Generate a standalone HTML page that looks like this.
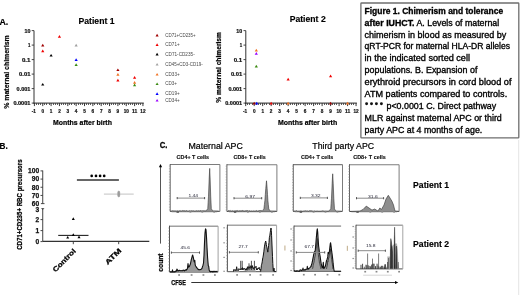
<!DOCTYPE html>
<html><head><meta charset="utf-8"><style>
html,body{margin:0;padding:0;background:#fff;overflow:hidden;}
svg{display:block;font-family:"Liberation Sans", sans-serif;will-change:transform;}
</style></head><body>
<svg width="520" height="295" viewBox="0 0 520 295">
<rect width="520" height="295" fill="#fff"/>
<text x="-0.60" y="24.80" font-size="9.6" font-weight="bold" textLength="8.8" lengthAdjust="spacingAndGlyphs" stroke="#000" stroke-width="0.2">A.</text>
<line x1="34.00" y1="30.60" x2="34.00" y2="103.60" stroke="#333" stroke-width="1"/>
<line x1="33.50" y1="103.10" x2="143.80" y2="103.10" stroke="#222" stroke-width="1"/>
<line x1="31.70" y1="30.60" x2="34.00" y2="30.60" stroke="#333" stroke-width="0.9"/>
<text x="30.40" y="32.90" font-size="5.0" font-weight="bold" text-anchor="end" fill="#111" textLength="5.9" lengthAdjust="spacingAndGlyphs" stroke="#111" stroke-width="0.2">10</text>
<line x1="31.70" y1="45.10" x2="34.00" y2="45.10" stroke="#333" stroke-width="0.9"/>
<text x="30.40" y="47.40" font-size="5.0" font-weight="bold" text-anchor="end" fill="#111" textLength="2.4" lengthAdjust="spacingAndGlyphs" stroke="#111" stroke-width="0.2">1</text>
<line x1="31.70" y1="59.60" x2="34.00" y2="59.60" stroke="#333" stroke-width="0.9"/>
<text x="30.40" y="61.90" font-size="5.0" font-weight="bold" text-anchor="end" fill="#111" textLength="8.5" lengthAdjust="spacingAndGlyphs" stroke="#111" stroke-width="0.2">0.1</text>
<line x1="31.70" y1="74.10" x2="34.00" y2="74.10" stroke="#333" stroke-width="0.9"/>
<text x="30.40" y="76.40" font-size="5.0" font-weight="bold" text-anchor="end" fill="#111" textLength="11.3" lengthAdjust="spacingAndGlyphs" stroke="#111" stroke-width="0.2">0.01</text>
<line x1="31.70" y1="88.60" x2="34.00" y2="88.60" stroke="#333" stroke-width="0.9"/>
<text x="30.40" y="90.90" font-size="5.0" font-weight="bold" text-anchor="end" fill="#111" textLength="13.8" lengthAdjust="spacingAndGlyphs" stroke="#111" stroke-width="0.2">0.001</text>
<line x1="31.70" y1="103.10" x2="34.00" y2="103.10" stroke="#333" stroke-width="0.9"/>
<text x="30.40" y="105.40" font-size="5.0" font-weight="bold" text-anchor="end" fill="#111" textLength="17" lengthAdjust="spacingAndGlyphs" stroke="#111" stroke-width="0.2">0.0001</text>
<line x1="34.40" y1="103.10" x2="34.40" y2="106.10" stroke="#222" stroke-width="0.9"/>
<line x1="36.50" y1="103.10" x2="36.50" y2="105.00" stroke="#333" stroke-width="0.8"/>
<line x1="38.50" y1="103.10" x2="38.50" y2="105.00" stroke="#333" stroke-width="0.8"/>
<line x1="40.50" y1="103.10" x2="40.50" y2="105.00" stroke="#333" stroke-width="0.8"/>
<line x1="42.75" y1="103.10" x2="42.75" y2="106.10" stroke="#222" stroke-width="0.9"/>
<line x1="44.50" y1="103.10" x2="44.50" y2="105.00" stroke="#333" stroke-width="0.8"/>
<line x1="46.50" y1="103.10" x2="46.50" y2="105.00" stroke="#333" stroke-width="0.8"/>
<line x1="49.50" y1="103.10" x2="49.50" y2="105.00" stroke="#333" stroke-width="0.8"/>
<line x1="51.10" y1="103.10" x2="51.10" y2="106.10" stroke="#222" stroke-width="0.9"/>
<line x1="53.50" y1="103.10" x2="53.50" y2="105.00" stroke="#333" stroke-width="0.8"/>
<line x1="55.50" y1="103.10" x2="55.50" y2="105.00" stroke="#333" stroke-width="0.8"/>
<line x1="57.50" y1="103.10" x2="57.50" y2="105.00" stroke="#333" stroke-width="0.8"/>
<line x1="59.45" y1="103.10" x2="59.45" y2="106.10" stroke="#222" stroke-width="0.9"/>
<line x1="61.50" y1="103.10" x2="61.50" y2="105.00" stroke="#333" stroke-width="0.8"/>
<line x1="63.50" y1="103.10" x2="63.50" y2="105.00" stroke="#333" stroke-width="0.8"/>
<line x1="65.50" y1="103.10" x2="65.50" y2="105.00" stroke="#333" stroke-width="0.8"/>
<line x1="67.80" y1="103.10" x2="67.80" y2="106.10" stroke="#222" stroke-width="0.9"/>
<line x1="69.50" y1="103.10" x2="69.50" y2="105.00" stroke="#333" stroke-width="0.8"/>
<line x1="71.50" y1="103.10" x2="71.50" y2="105.00" stroke="#333" stroke-width="0.8"/>
<line x1="74.50" y1="103.10" x2="74.50" y2="105.00" stroke="#333" stroke-width="0.8"/>
<line x1="76.15" y1="103.10" x2="76.15" y2="106.10" stroke="#222" stroke-width="0.9"/>
<line x1="78.50" y1="103.10" x2="78.50" y2="105.00" stroke="#333" stroke-width="0.8"/>
<line x1="80.50" y1="103.10" x2="80.50" y2="105.00" stroke="#333" stroke-width="0.8"/>
<line x1="82.50" y1="103.10" x2="82.50" y2="105.00" stroke="#333" stroke-width="0.8"/>
<line x1="84.50" y1="103.10" x2="84.50" y2="106.10" stroke="#222" stroke-width="0.9"/>
<line x1="86.50" y1="103.10" x2="86.50" y2="105.00" stroke="#333" stroke-width="0.8"/>
<line x1="88.50" y1="103.10" x2="88.50" y2="105.00" stroke="#333" stroke-width="0.8"/>
<line x1="90.50" y1="103.10" x2="90.50" y2="105.00" stroke="#333" stroke-width="0.8"/>
<line x1="92.85" y1="103.10" x2="92.85" y2="106.10" stroke="#222" stroke-width="0.9"/>
<line x1="94.50" y1="103.10" x2="94.50" y2="105.00" stroke="#333" stroke-width="0.8"/>
<line x1="97.50" y1="103.10" x2="97.50" y2="105.00" stroke="#333" stroke-width="0.8"/>
<line x1="99.50" y1="103.10" x2="99.50" y2="105.00" stroke="#333" stroke-width="0.8"/>
<line x1="101.20" y1="103.10" x2="101.20" y2="106.10" stroke="#222" stroke-width="0.9"/>
<line x1="103.50" y1="103.10" x2="103.50" y2="105.00" stroke="#333" stroke-width="0.8"/>
<line x1="105.50" y1="103.10" x2="105.50" y2="105.00" stroke="#333" stroke-width="0.8"/>
<line x1="107.50" y1="103.10" x2="107.50" y2="105.00" stroke="#333" stroke-width="0.8"/>
<line x1="109.55" y1="103.10" x2="109.55" y2="106.10" stroke="#222" stroke-width="0.9"/>
<line x1="111.50" y1="103.10" x2="111.50" y2="105.00" stroke="#333" stroke-width="0.8"/>
<line x1="113.50" y1="103.10" x2="113.50" y2="105.00" stroke="#333" stroke-width="0.8"/>
<line x1="115.50" y1="103.10" x2="115.50" y2="105.00" stroke="#333" stroke-width="0.8"/>
<line x1="117.90" y1="103.10" x2="117.90" y2="106.10" stroke="#222" stroke-width="0.9"/>
<line x1="119.50" y1="103.10" x2="119.50" y2="105.00" stroke="#333" stroke-width="0.8"/>
<line x1="122.50" y1="103.10" x2="122.50" y2="105.00" stroke="#333" stroke-width="0.8"/>
<line x1="124.50" y1="103.10" x2="124.50" y2="105.00" stroke="#333" stroke-width="0.8"/>
<line x1="126.25" y1="103.10" x2="126.25" y2="106.10" stroke="#222" stroke-width="0.9"/>
<line x1="128.50" y1="103.10" x2="128.50" y2="105.00" stroke="#333" stroke-width="0.8"/>
<line x1="130.50" y1="103.10" x2="130.50" y2="105.00" stroke="#333" stroke-width="0.8"/>
<line x1="132.50" y1="103.10" x2="132.50" y2="105.00" stroke="#333" stroke-width="0.8"/>
<line x1="134.60" y1="103.10" x2="134.60" y2="106.10" stroke="#222" stroke-width="0.9"/>
<line x1="136.50" y1="103.10" x2="136.50" y2="105.00" stroke="#333" stroke-width="0.8"/>
<line x1="138.50" y1="103.10" x2="138.50" y2="105.00" stroke="#333" stroke-width="0.8"/>
<line x1="140.50" y1="103.10" x2="140.50" y2="105.00" stroke="#333" stroke-width="0.8"/>
<line x1="142.95" y1="103.10" x2="142.95" y2="106.10" stroke="#222" stroke-width="0.9"/>
<text x="33.80" y="112.50" font-size="5.2" font-weight="bold" text-anchor="middle" fill="#111" textLength="4.2" lengthAdjust="spacingAndGlyphs" stroke="#111" stroke-width="0.2">-1</text>
<text x="42.75" y="112.50" font-size="5.2" font-weight="bold" text-anchor="middle" fill="#111" textLength="2.6" lengthAdjust="spacingAndGlyphs" stroke="#111" stroke-width="0.2">0</text>
<text x="51.10" y="112.50" font-size="5.2" font-weight="bold" text-anchor="middle" fill="#111" textLength="2.6" lengthAdjust="spacingAndGlyphs" stroke="#111" stroke-width="0.2">1</text>
<text x="59.45" y="112.50" font-size="5.2" font-weight="bold" text-anchor="middle" fill="#111" textLength="2.6" lengthAdjust="spacingAndGlyphs" stroke="#111" stroke-width="0.2">2</text>
<text x="67.80" y="112.50" font-size="5.2" font-weight="bold" text-anchor="middle" fill="#111" textLength="2.6" lengthAdjust="spacingAndGlyphs" stroke="#111" stroke-width="0.2">3</text>
<text x="76.15" y="112.50" font-size="5.2" font-weight="bold" text-anchor="middle" fill="#111" textLength="2.6" lengthAdjust="spacingAndGlyphs" stroke="#111" stroke-width="0.2">4</text>
<text x="84.50" y="112.50" font-size="5.2" font-weight="bold" text-anchor="middle" fill="#111" textLength="2.6" lengthAdjust="spacingAndGlyphs" stroke="#111" stroke-width="0.2">5</text>
<text x="92.85" y="112.50" font-size="5.2" font-weight="bold" text-anchor="middle" fill="#111" textLength="2.6" lengthAdjust="spacingAndGlyphs" stroke="#111" stroke-width="0.2">6</text>
<text x="101.20" y="112.50" font-size="5.2" font-weight="bold" text-anchor="middle" fill="#111" textLength="2.6" lengthAdjust="spacingAndGlyphs" stroke="#111" stroke-width="0.2">7</text>
<text x="109.55" y="112.50" font-size="5.2" font-weight="bold" text-anchor="middle" fill="#111" textLength="2.6" lengthAdjust="spacingAndGlyphs" stroke="#111" stroke-width="0.2">8</text>
<text x="117.90" y="112.50" font-size="5.2" font-weight="bold" text-anchor="middle" fill="#111" textLength="2.6" lengthAdjust="spacingAndGlyphs" stroke="#111" stroke-width="0.2">9</text>
<text x="126.25" y="112.50" font-size="5.2" font-weight="bold" text-anchor="middle" fill="#111" textLength="5.2" lengthAdjust="spacingAndGlyphs" stroke="#111" stroke-width="0.2">10</text>
<text x="134.60" y="112.50" font-size="5.2" font-weight="bold" text-anchor="middle" fill="#111" textLength="5.2" lengthAdjust="spacingAndGlyphs" stroke="#111" stroke-width="0.2">11</text>
<text x="142.95" y="112.50" font-size="5.2" font-weight="bold" text-anchor="middle" fill="#111" textLength="5.2" lengthAdjust="spacingAndGlyphs" stroke="#111" stroke-width="0.2">12</text>
<text x="78.50" y="23.70" font-size="8.6" font-weight="bold" textLength="36" lengthAdjust="spacingAndGlyphs" stroke="#000" stroke-width="0.15">Patient 1</text>
<text x="9.30" y="108.70" font-size="7.2" font-weight="bold" textLength="73.4" lengthAdjust="spacingAndGlyphs" transform="rotate(-90 9.30 108.70)" stroke="#000" stroke-width="0.2">% maternal chimerism</text>
<text x="53.10" y="124.80" font-size="7.0" font-weight="bold" textLength="58.800000000000004" lengthAdjust="spacingAndGlyphs" stroke="#000" stroke-width="0.2">Months after birth</text>
<path d="M41.15 46.46L42.75 43.74L44.35 46.46Z" fill="#a00000"/>
<path d="M41.15 52.23L42.75 49.51L44.35 52.23Z" fill="#f00000"/>
<path d="M41.15 85.60L42.75 82.88L44.35 85.60Z" fill="#000"/>
<path d="M49.50 56.60L51.10 53.88L52.70 56.60Z" fill="#000"/>
<path d="M57.85 37.73L59.45 35.01L61.05 37.73Z" fill="#f00000"/>
<path d="M74.55 46.46L76.15 43.74L77.75 46.46Z" fill="#a0a0a0"/>
<path d="M74.55 60.96L76.15 58.24L77.75 60.96Z" fill="#0000ff"/>
<path d="M74.55 65.99L76.15 63.27L77.75 65.99Z" fill="#3a8a10"/>
<path d="M116.30 71.10L117.90 68.38L119.50 71.10Z" fill="#a00000"/>
<path d="M116.30 75.78L117.90 73.06L119.50 75.78Z" fill="#f07020"/>
<path d="M116.30 81.55L117.90 78.83L119.50 81.55Z" fill="#f00000"/>
<path d="M133.00 78.68L134.60 75.96L136.20 78.68Z" fill="#f00000"/>
<path d="M133.00 83.71L134.60 80.99L136.20 83.71Z" fill="#f07020"/>
<path d="M133.00 86.26L134.60 83.54L136.20 86.26Z" fill="#3a8a10"/>
<line x1="245.80" y1="30.60" x2="245.80" y2="103.60" stroke="#333" stroke-width="1"/>
<line x1="245.30" y1="103.10" x2="356.90" y2="103.10" stroke="#222" stroke-width="1"/>
<line x1="243.50" y1="30.60" x2="245.80" y2="30.60" stroke="#333" stroke-width="0.9"/>
<text x="242.20" y="32.90" font-size="5.0" font-weight="bold" text-anchor="end" fill="#111" textLength="5.9" lengthAdjust="spacingAndGlyphs" stroke="#111" stroke-width="0.2">10</text>
<line x1="243.50" y1="45.10" x2="245.80" y2="45.10" stroke="#333" stroke-width="0.9"/>
<text x="242.20" y="47.40" font-size="5.0" font-weight="bold" text-anchor="end" fill="#111" textLength="2.4" lengthAdjust="spacingAndGlyphs" stroke="#111" stroke-width="0.2">1</text>
<line x1="243.50" y1="59.60" x2="245.80" y2="59.60" stroke="#333" stroke-width="0.9"/>
<text x="242.20" y="61.90" font-size="5.0" font-weight="bold" text-anchor="end" fill="#111" textLength="8.5" lengthAdjust="spacingAndGlyphs" stroke="#111" stroke-width="0.2">0.1</text>
<line x1="243.50" y1="74.10" x2="245.80" y2="74.10" stroke="#333" stroke-width="0.9"/>
<text x="242.20" y="76.40" font-size="5.0" font-weight="bold" text-anchor="end" fill="#111" textLength="11.3" lengthAdjust="spacingAndGlyphs" stroke="#111" stroke-width="0.2">0.01</text>
<line x1="243.50" y1="88.60" x2="245.80" y2="88.60" stroke="#333" stroke-width="0.9"/>
<text x="242.20" y="90.90" font-size="5.0" font-weight="bold" text-anchor="end" fill="#111" textLength="13.8" lengthAdjust="spacingAndGlyphs" stroke="#111" stroke-width="0.2">0.001</text>
<line x1="243.50" y1="103.10" x2="245.80" y2="103.10" stroke="#333" stroke-width="0.9"/>
<text x="242.20" y="105.40" font-size="5.0" font-weight="bold" text-anchor="end" fill="#111" textLength="17" lengthAdjust="spacingAndGlyphs" stroke="#111" stroke-width="0.2">0.0001</text>
<line x1="245.70" y1="103.10" x2="245.70" y2="106.10" stroke="#222" stroke-width="0.9"/>
<line x1="247.50" y1="103.10" x2="247.50" y2="105.00" stroke="#333" stroke-width="0.8"/>
<line x1="249.50" y1="103.10" x2="249.50" y2="105.00" stroke="#333" stroke-width="0.8"/>
<line x1="252.50" y1="103.10" x2="252.50" y2="105.00" stroke="#333" stroke-width="0.8"/>
<line x1="254.19" y1="103.10" x2="254.19" y2="106.10" stroke="#222" stroke-width="0.9"/>
<line x1="256.50" y1="103.10" x2="256.50" y2="105.00" stroke="#333" stroke-width="0.8"/>
<line x1="258.50" y1="103.10" x2="258.50" y2="105.00" stroke="#333" stroke-width="0.8"/>
<line x1="260.50" y1="103.10" x2="260.50" y2="105.00" stroke="#333" stroke-width="0.8"/>
<line x1="262.68" y1="103.10" x2="262.68" y2="106.10" stroke="#222" stroke-width="0.9"/>
<line x1="264.50" y1="103.10" x2="264.50" y2="105.00" stroke="#333" stroke-width="0.8"/>
<line x1="266.50" y1="103.10" x2="266.50" y2="105.00" stroke="#333" stroke-width="0.8"/>
<line x1="269.50" y1="103.10" x2="269.50" y2="105.00" stroke="#333" stroke-width="0.8"/>
<line x1="271.17" y1="103.10" x2="271.17" y2="106.10" stroke="#222" stroke-width="0.9"/>
<line x1="273.50" y1="103.10" x2="273.50" y2="105.00" stroke="#333" stroke-width="0.8"/>
<line x1="275.50" y1="103.10" x2="275.50" y2="105.00" stroke="#333" stroke-width="0.8"/>
<line x1="277.50" y1="103.10" x2="277.50" y2="105.00" stroke="#333" stroke-width="0.8"/>
<line x1="279.66" y1="103.10" x2="279.66" y2="106.10" stroke="#222" stroke-width="0.9"/>
<line x1="281.50" y1="103.10" x2="281.50" y2="105.00" stroke="#333" stroke-width="0.8"/>
<line x1="283.50" y1="103.10" x2="283.50" y2="105.00" stroke="#333" stroke-width="0.8"/>
<line x1="286.50" y1="103.10" x2="286.50" y2="105.00" stroke="#333" stroke-width="0.8"/>
<line x1="288.15" y1="103.10" x2="288.15" y2="106.10" stroke="#222" stroke-width="0.9"/>
<line x1="290.50" y1="103.10" x2="290.50" y2="105.00" stroke="#333" stroke-width="0.8"/>
<line x1="292.50" y1="103.10" x2="292.50" y2="105.00" stroke="#333" stroke-width="0.8"/>
<line x1="294.50" y1="103.10" x2="294.50" y2="105.00" stroke="#333" stroke-width="0.8"/>
<line x1="296.64" y1="103.10" x2="296.64" y2="106.10" stroke="#222" stroke-width="0.9"/>
<line x1="298.50" y1="103.10" x2="298.50" y2="105.00" stroke="#333" stroke-width="0.8"/>
<line x1="300.50" y1="103.10" x2="300.50" y2="105.00" stroke="#333" stroke-width="0.8"/>
<line x1="303.50" y1="103.10" x2="303.50" y2="105.00" stroke="#333" stroke-width="0.8"/>
<line x1="305.13" y1="103.10" x2="305.13" y2="106.10" stroke="#222" stroke-width="0.9"/>
<line x1="307.50" y1="103.10" x2="307.50" y2="105.00" stroke="#333" stroke-width="0.8"/>
<line x1="309.50" y1="103.10" x2="309.50" y2="105.00" stroke="#333" stroke-width="0.8"/>
<line x1="311.50" y1="103.10" x2="311.50" y2="105.00" stroke="#333" stroke-width="0.8"/>
<line x1="313.62" y1="103.10" x2="313.62" y2="106.10" stroke="#222" stroke-width="0.9"/>
<line x1="315.50" y1="103.10" x2="315.50" y2="105.00" stroke="#333" stroke-width="0.8"/>
<line x1="317.50" y1="103.10" x2="317.50" y2="105.00" stroke="#333" stroke-width="0.8"/>
<line x1="319.50" y1="103.10" x2="319.50" y2="105.00" stroke="#333" stroke-width="0.8"/>
<line x1="322.11" y1="103.10" x2="322.11" y2="106.10" stroke="#222" stroke-width="0.9"/>
<line x1="324.50" y1="103.10" x2="324.50" y2="105.00" stroke="#333" stroke-width="0.8"/>
<line x1="326.50" y1="103.10" x2="326.50" y2="105.00" stroke="#333" stroke-width="0.8"/>
<line x1="328.50" y1="103.10" x2="328.50" y2="105.00" stroke="#333" stroke-width="0.8"/>
<line x1="330.60" y1="103.10" x2="330.60" y2="106.10" stroke="#222" stroke-width="0.9"/>
<line x1="332.50" y1="103.10" x2="332.50" y2="105.00" stroke="#333" stroke-width="0.8"/>
<line x1="334.50" y1="103.10" x2="334.50" y2="105.00" stroke="#333" stroke-width="0.8"/>
<line x1="336.50" y1="103.10" x2="336.50" y2="105.00" stroke="#333" stroke-width="0.8"/>
<line x1="339.09" y1="103.10" x2="339.09" y2="106.10" stroke="#222" stroke-width="0.9"/>
<line x1="341.50" y1="103.10" x2="341.50" y2="105.00" stroke="#333" stroke-width="0.8"/>
<line x1="343.50" y1="103.10" x2="343.50" y2="105.00" stroke="#333" stroke-width="0.8"/>
<line x1="345.50" y1="103.10" x2="345.50" y2="105.00" stroke="#333" stroke-width="0.8"/>
<line x1="347.58" y1="103.10" x2="347.58" y2="106.10" stroke="#222" stroke-width="0.9"/>
<line x1="349.50" y1="103.10" x2="349.50" y2="105.00" stroke="#333" stroke-width="0.8"/>
<line x1="351.50" y1="103.10" x2="351.50" y2="105.00" stroke="#333" stroke-width="0.8"/>
<line x1="353.50" y1="103.10" x2="353.50" y2="105.00" stroke="#333" stroke-width="0.8"/>
<line x1="356.07" y1="103.10" x2="356.07" y2="106.10" stroke="#222" stroke-width="0.9"/>
<text x="245.10" y="112.50" font-size="5.2" font-weight="bold" text-anchor="middle" fill="#111" textLength="4.2" lengthAdjust="spacingAndGlyphs" stroke="#111" stroke-width="0.2">-1</text>
<text x="254.19" y="112.50" font-size="5.2" font-weight="bold" text-anchor="middle" fill="#111" textLength="2.6" lengthAdjust="spacingAndGlyphs" stroke="#111" stroke-width="0.2">0</text>
<text x="262.68" y="112.50" font-size="5.2" font-weight="bold" text-anchor="middle" fill="#111" textLength="2.6" lengthAdjust="spacingAndGlyphs" stroke="#111" stroke-width="0.2">1</text>
<text x="271.17" y="112.50" font-size="5.2" font-weight="bold" text-anchor="middle" fill="#111" textLength="2.6" lengthAdjust="spacingAndGlyphs" stroke="#111" stroke-width="0.2">2</text>
<text x="279.66" y="112.50" font-size="5.2" font-weight="bold" text-anchor="middle" fill="#111" textLength="2.6" lengthAdjust="spacingAndGlyphs" stroke="#111" stroke-width="0.2">3</text>
<text x="288.15" y="112.50" font-size="5.2" font-weight="bold" text-anchor="middle" fill="#111" textLength="2.6" lengthAdjust="spacingAndGlyphs" stroke="#111" stroke-width="0.2">4</text>
<text x="296.64" y="112.50" font-size="5.2" font-weight="bold" text-anchor="middle" fill="#111" textLength="2.6" lengthAdjust="spacingAndGlyphs" stroke="#111" stroke-width="0.2">5</text>
<text x="305.13" y="112.50" font-size="5.2" font-weight="bold" text-anchor="middle" fill="#111" textLength="2.6" lengthAdjust="spacingAndGlyphs" stroke="#111" stroke-width="0.2">6</text>
<text x="313.62" y="112.50" font-size="5.2" font-weight="bold" text-anchor="middle" fill="#111" textLength="2.6" lengthAdjust="spacingAndGlyphs" stroke="#111" stroke-width="0.2">7</text>
<text x="322.11" y="112.50" font-size="5.2" font-weight="bold" text-anchor="middle" fill="#111" textLength="2.6" lengthAdjust="spacingAndGlyphs" stroke="#111" stroke-width="0.2">8</text>
<text x="330.60" y="112.50" font-size="5.2" font-weight="bold" text-anchor="middle" fill="#111" textLength="2.6" lengthAdjust="spacingAndGlyphs" stroke="#111" stroke-width="0.2">9</text>
<text x="339.09" y="112.50" font-size="5.2" font-weight="bold" text-anchor="middle" fill="#111" textLength="5.2" lengthAdjust="spacingAndGlyphs" stroke="#111" stroke-width="0.2">10</text>
<text x="347.58" y="112.50" font-size="5.2" font-weight="bold" text-anchor="middle" fill="#111" textLength="5.2" lengthAdjust="spacingAndGlyphs" stroke="#111" stroke-width="0.2">11</text>
<text x="356.07" y="112.50" font-size="5.2" font-weight="bold" text-anchor="middle" fill="#111" textLength="5.2" lengthAdjust="spacingAndGlyphs" stroke="#111" stroke-width="0.2">12</text>
<text x="289.70" y="21.70" font-size="8.6" font-weight="bold" textLength="36" lengthAdjust="spacingAndGlyphs" stroke="#000" stroke-width="0.15">Patient 2</text>
<text x="221.30" y="102.80" font-size="7.2" font-weight="bold" textLength="70.8" lengthAdjust="spacingAndGlyphs" transform="rotate(-90 221.30 102.80)" stroke="#000" stroke-width="0.2">% maternal chimerism</text>
<text x="278.00" y="124.80" font-size="7.0" font-weight="bold" textLength="59.19999999999999" lengthAdjust="spacingAndGlyphs" stroke="#000" stroke-width="0.2">Months after birth</text>
<path d="M254.71 51.49L256.31 48.77L257.91 51.49Z" fill="#f07020"/>
<path d="M254.71 54.71L256.31 51.99L257.91 54.71Z" fill="#9900ff"/>
<path d="M254.71 67.57L256.31 64.85L257.91 67.57Z" fill="#3a8a10"/>
<path d="M286.55 80.49L288.15 77.77L289.75 80.49Z" fill="#f00000"/>
<path d="M329.00 77.27L330.60 74.55L332.20 77.27Z" fill="#f00000"/>
<path d="M252.59 104.46L254.19 101.74L255.79 104.46Z" fill="#a00000"/>
<path d="M255.14 104.46L256.74 101.74L258.34 104.46Z" fill="#0000ff"/>
<path d="M269.57 104.46L271.17 101.74L272.77 104.46Z" fill="#f00000"/>
<path d="M286.55 104.46L288.15 101.74L289.75 104.46Z" fill="#f07020"/>
<path d="M329.00 104.46L330.60 101.74L332.20 104.46Z" fill="#a00000"/>
<path d="M345.98 104.46L347.58 101.74L349.18 104.46Z" fill="#f07020"/>
<path d="M155.55 36.42L157.10 33.78L158.65 36.42Z" fill="#a00000"/>
<text x="165.20" y="36.70" font-size="4.6" fill="#4a4a4a" textLength="30.5" lengthAdjust="spacingAndGlyphs">CD71+CD235+</text>
<path d="M155.55 45.92L157.10 43.28L158.65 45.92Z" fill="#f00000"/>
<text x="165.20" y="46.20" font-size="4.6" fill="#4a4a4a" textLength="14.5" lengthAdjust="spacingAndGlyphs">CD71+</text>
<path d="M155.55 55.42L157.10 52.78L158.65 55.42Z" fill="#000"/>
<text x="165.20" y="55.70" font-size="4.6" fill="#4a4a4a" textLength="29.5" lengthAdjust="spacingAndGlyphs">CD71-CD235-</text>
<path d="M155.55 65.62L157.10 62.98L158.65 65.62Z" fill="#a0a0a0"/>
<text x="165.20" y="65.90" font-size="4.6" fill="#4a4a4a" textLength="37.5" lengthAdjust="spacingAndGlyphs">CD45+CD3-CD19-</text>
<path d="M155.55 75.52L157.10 72.88L158.65 75.52Z" fill="#f07020"/>
<text x="165.20" y="75.80" font-size="4.6" fill="#4a4a4a" textLength="14.5" lengthAdjust="spacingAndGlyphs">CD33+</text>
<path d="M155.55 85.12L157.10 82.48L158.65 85.12Z" fill="#3a8a10"/>
<text x="165.20" y="85.40" font-size="4.6" fill="#4a4a4a" textLength="11.8" lengthAdjust="spacingAndGlyphs">CD3+</text>
<path d="M155.55 94.92L157.10 92.28L158.65 94.92Z" fill="#0000ff"/>
<text x="165.20" y="95.20" font-size="4.6" fill="#4a4a4a" textLength="14.5" lengthAdjust="spacingAndGlyphs">CD19+</text>
<path d="M155.55 101.62L157.10 98.98L158.65 101.62Z" fill="#9900ff"/>
<text x="165.20" y="101.90" font-size="4.6" fill="#4a4a4a" textLength="14.5" lengthAdjust="spacingAndGlyphs">CD34+</text>
<rect x="360.9" y="3.0" width="157.9" height="134.9" rx="0.6" fill="#fff" stroke="#6e6e6e" stroke-width="1.3"/>
<text x="364.6" y="13.80" font-size="9.0" fill="#000" stroke="#000" stroke-width="0.34" textLength="138.5" lengthAdjust="spacingAndGlyphs"><tspan font-weight="bold">Figure 1. Chimerism and tolerance</tspan></text>
<text x="364.6" y="25.68" font-size="9.0" fill="#000" stroke="#000" stroke-width="0.34" textLength="134.6" lengthAdjust="spacingAndGlyphs"><tspan font-weight="bold">after IUHCT.</tspan><tspan> A. Levels of maternal</tspan></text>
<text x="364.6" y="37.56" font-size="9.0" fill="#000" stroke="#000" stroke-width="0.34" textLength="141.6" lengthAdjust="spacingAndGlyphs"><tspan>chimerism in blood as measured by</tspan></text>
<text x="364.6" y="49.44" font-size="9.0" fill="#000" stroke="#000" stroke-width="0.34" textLength="145.4" lengthAdjust="spacingAndGlyphs"><tspan>qRT-PCR for maternal HLA-DR alleles</tspan></text>
<text x="364.6" y="61.32" font-size="9.0" fill="#000" stroke="#000" stroke-width="0.34" textLength="105.4" lengthAdjust="spacingAndGlyphs"><tspan>in the indicated sorted cell</tspan></text>
<text x="364.6" y="73.20" font-size="9.0" fill="#000" stroke="#000" stroke-width="0.34" textLength="112.8" lengthAdjust="spacingAndGlyphs"><tspan>populations. B. Expansion of</tspan></text>
<text x="364.6" y="85.08" font-size="9.0" fill="#000" stroke="#000" stroke-width="0.34" textLength="146.9" lengthAdjust="spacingAndGlyphs"><tspan>erythroid precursors in cord blood of</tspan></text>
<text x="364.6" y="96.96" font-size="9.0" fill="#000" stroke="#000" stroke-width="0.34" textLength="142.6" lengthAdjust="spacingAndGlyphs"><tspan>ATM patients compared to controls.</tspan></text>
<text x="386.5" y="108.84" font-size="9.0" fill="#000" stroke="#000" stroke-width="0.34" textLength="109.7" lengthAdjust="spacingAndGlyphs"><tspan>p&lt;0.0001 C. Direct pathway</tspan></text>
<text x="364.6" y="120.72" font-size="9.0" fill="#000" stroke="#000" stroke-width="0.34" textLength="137.2" lengthAdjust="spacingAndGlyphs"><tspan>MLR against maternal APC or third</tspan></text>
<text x="364.6" y="132.60" font-size="9.0" fill="#000" stroke="#000" stroke-width="0.34" textLength="117.7" lengthAdjust="spacingAndGlyphs"><tspan>party APC at 4 months of age.</tspan></text>
<circle cx="366.6" cy="103.8" r="1.45" fill="#111"/>
<circle cx="371.5" cy="103.8" r="1.45" fill="#111"/>
<circle cx="376.4" cy="103.8" r="1.45" fill="#111"/>
<circle cx="381.4" cy="103.8" r="1.45" fill="#111"/>
<text x="-0.50" y="148.90" font-size="9.2" font-weight="bold" textLength="8.2" lengthAdjust="spacingAndGlyphs" stroke="#000" stroke-width="0.2">B.</text>
<text x="21.70" y="249.80" font-size="7.0" font-weight="bold" textLength="90.4" lengthAdjust="spacingAndGlyphs" transform="rotate(-90 21.70 249.80)" stroke="#000" stroke-width="0.25">CD71+CD235+ RBC precursors</text>
<line x1="42.70" y1="170.40" x2="42.70" y2="203.60" stroke="#555" stroke-width="1.1"/>
<line x1="42.70" y1="208.60" x2="42.70" y2="241.40" stroke="#555" stroke-width="1.1"/>
<line x1="40.50" y1="170.90" x2="42.70" y2="170.90" stroke="#333" stroke-width="0.9"/>
<text x="39.10" y="173.30" font-size="6.7" font-weight="bold" text-anchor="end" fill="#111" textLength="11.100000000000001" lengthAdjust="spacingAndGlyphs" stroke="#111" stroke-width="0.25">100</text>
<line x1="40.50" y1="179.08" x2="42.70" y2="179.08" stroke="#333" stroke-width="0.9"/>
<text x="39.10" y="181.48" font-size="6.7" font-weight="bold" text-anchor="end" fill="#111" textLength="7.4" lengthAdjust="spacingAndGlyphs" stroke="#111" stroke-width="0.25">90</text>
<line x1="40.50" y1="187.26" x2="42.70" y2="187.26" stroke="#333" stroke-width="0.9"/>
<text x="39.10" y="189.66" font-size="6.7" font-weight="bold" text-anchor="end" fill="#111" textLength="7.4" lengthAdjust="spacingAndGlyphs" stroke="#111" stroke-width="0.25">80</text>
<line x1="40.50" y1="195.44" x2="42.70" y2="195.44" stroke="#333" stroke-width="0.9"/>
<text x="39.10" y="197.84" font-size="6.7" font-weight="bold" text-anchor="end" fill="#111" textLength="7.4" lengthAdjust="spacingAndGlyphs" stroke="#111" stroke-width="0.25">70</text>
<line x1="40.90" y1="203.62" x2="44.50" y2="203.62" stroke="#333" stroke-width="0.9"/>
<text x="39.10" y="206.02" font-size="6.7" font-weight="bold" text-anchor="end" fill="#111" textLength="7.4" lengthAdjust="spacingAndGlyphs" stroke="#111" stroke-width="0.25">60</text>
<path d="M40.90 208.20L44.50 208.20L42.70 209.80Z" fill="#333"/>
<text x="39.10" y="211.60" font-size="6.7" font-weight="bold" text-anchor="end" fill="#111" textLength="3.7" lengthAdjust="spacingAndGlyphs" stroke="#111" stroke-width="0.25">3</text>
<line x1="40.50" y1="219.60" x2="42.70" y2="219.60" stroke="#333" stroke-width="0.9"/>
<text x="39.10" y="222.00" font-size="6.7" font-weight="bold" text-anchor="end" fill="#111" textLength="3.7" lengthAdjust="spacingAndGlyphs" stroke="#111" stroke-width="0.25">2</text>
<line x1="40.50" y1="230.60" x2="42.70" y2="230.60" stroke="#333" stroke-width="0.9"/>
<text x="39.10" y="233.00" font-size="6.7" font-weight="bold" text-anchor="end" fill="#111" textLength="3.7" lengthAdjust="spacingAndGlyphs" stroke="#111" stroke-width="0.25">1</text>
<line x1="40.50" y1="241.60" x2="42.70" y2="241.60" stroke="#333" stroke-width="0.9"/>
<text x="39.10" y="244.00" font-size="6.7" font-weight="bold" text-anchor="end" fill="#111" textLength="3.7" lengthAdjust="spacingAndGlyphs" stroke="#111" stroke-width="0.25">0</text>
<line x1="42.70" y1="241.40" x2="149.30" y2="241.40" stroke="#333" stroke-width="1.1"/>
<line x1="73.30" y1="241.30" x2="73.30" y2="244.20" stroke="#333" stroke-width="0.9"/>
<line x1="118.70" y1="241.30" x2="118.70" y2="244.20" stroke="#333" stroke-width="0.9"/>
<line x1="58.20" y1="235.40" x2="88.50" y2="235.40" stroke="#222" stroke-width="1.1"/>
<path d="M66.20 238.47L67.70 235.92L69.20 238.47Z" fill="#000"/>
<path d="M71.80 235.88L73.30 233.32L74.80 235.88Z" fill="#000"/>
<path d="M77.50 238.18L79.00 235.62L80.50 238.18Z" fill="#000"/>
<path d="M71.80 219.88L73.30 217.32L74.80 219.88Z" fill="#000"/>
<line x1="103.90" y1="194.10" x2="133.70" y2="194.10" stroke="#c8c8c8" stroke-width="1.1"/>
<rect x="117.8" y="191.2" width="1.9" height="5.6" rx="0.8" fill="#a0a0a0" stroke="#808080" stroke-width="0.5"/>
<line x1="76.90" y1="180.00" x2="118.90" y2="180.00" stroke="#333" stroke-width="1.7"/>
<circle cx="91.7" cy="175.9" r="1.35" fill="#000"/>
<circle cx="96.0" cy="175.9" r="1.35" fill="#000"/>
<circle cx="100.1" cy="175.9" r="1.35" fill="#000"/>
<circle cx="104.2" cy="175.9" r="1.35" fill="#000"/>
<text x="76.30" y="251.60" font-size="6.9" font-weight="bold" text-anchor="end" textLength="29.5" lengthAdjust="spacingAndGlyphs" transform="rotate(-45 76.30 251.60)" stroke="#000" stroke-width="0.25">Control</text>
<text x="121.80" y="251.00" font-size="6.9" font-weight="bold" text-anchor="end" textLength="20" lengthAdjust="spacingAndGlyphs" transform="rotate(-45 121.80 251.00)" stroke="#000" stroke-width="0.25">ATM</text>
<text x="159.80" y="148.30" font-size="9.2" font-weight="bold" textLength="7.7" lengthAdjust="spacingAndGlyphs" stroke="#000" stroke-width="0.3">C.</text>
<text x="188.50" y="149.00" font-size="8.8" textLength="54.3" lengthAdjust="spacingAndGlyphs" stroke="#000" stroke-width="0.2">Maternal APC</text>
<text x="312.30" y="149.00" font-size="8.8" textLength="61.8" lengthAdjust="spacingAndGlyphs" stroke="#000" stroke-width="0.2">Third party APC</text>
<text x="176.60" y="159.30" font-size="5.6" font-weight="bold" fill="#111" textLength="32.400000000000006" lengthAdjust="spacingAndGlyphs" stroke="#111" stroke-width="0.15">CD4+ T cells</text>
<text x="233.60" y="159.30" font-size="5.6" font-weight="bold" fill="#111" textLength="32.20000000000002" lengthAdjust="spacingAndGlyphs" stroke="#111" stroke-width="0.15">CD8+ T cells</text>
<text x="301.10" y="159.30" font-size="5.6" font-weight="bold" fill="#111" textLength="32.19999999999999" lengthAdjust="spacingAndGlyphs" stroke="#111" stroke-width="0.15">CD4+ T cells</text>
<text x="353.20" y="159.30" font-size="5.6" font-weight="bold" fill="#111" textLength="32.60000000000002" lengthAdjust="spacingAndGlyphs" stroke="#111" stroke-width="0.15">CD8+ T cells</text>
<text x="413.10" y="188.10" font-size="8.6" font-weight="bold" textLength="36" lengthAdjust="spacingAndGlyphs" stroke="#000" stroke-width="0.15">Patient 1</text>
<text x="413.10" y="247.30" font-size="8.6" font-weight="bold" textLength="36" lengthAdjust="spacingAndGlyphs" stroke="#000" stroke-width="0.15">Patient 2</text>
<line x1="160.50" y1="166.50" x2="160.50" y2="243.60" stroke="#555" stroke-width="1"/>
<path d="M158.9 167.3L160.5 164.0L162.1 167.3Z" fill="#000"/>
<text x="163.50" y="271.70" font-size="6.8" font-weight="bold" textLength="18.3" lengthAdjust="spacingAndGlyphs" transform="rotate(-90 163.50 271.70)" stroke="#000" stroke-width="0.25">count</text>
<text x="171.30" y="285.10" font-size="6.8" font-weight="bold" textLength="14.6" lengthAdjust="spacingAndGlyphs" stroke="#000" stroke-width="0.25">CFSE</text>
<line x1="191.30" y1="282.50" x2="396.00" y2="282.50" stroke="#333" stroke-width="1"/>
<path d="M395 280.9L398.3 282.5L395 284.1Z" fill="#000"/>
<line x1="170.20" y1="164.50" x2="219.90" y2="164.50" stroke="#7c7c7c" stroke-width="1.1"/>
<line x1="170.20" y1="164.00" x2="170.20" y2="211.40" stroke="#3c3c3c" stroke-width="0.8"/>
<line x1="170.20" y1="211.40" x2="219.90" y2="211.40" stroke="#3c3c3c" stroke-width="0.8"/>
<line x1="219.90" y1="164.50" x2="219.90" y2="211.40" stroke="#7c7c7c" stroke-width="1"/>
<line x1="168.90" y1="166.00" x2="170.20" y2="166.00" stroke="#8a8a8a" stroke-width="0.55"/>
<line x1="168.90" y1="168.74" x2="170.20" y2="168.74" stroke="#8a8a8a" stroke-width="0.55"/>
<line x1="168.90" y1="171.49" x2="170.20" y2="171.49" stroke="#8a8a8a" stroke-width="0.55"/>
<line x1="168.90" y1="174.23" x2="170.20" y2="174.23" stroke="#8a8a8a" stroke-width="0.55"/>
<line x1="168.90" y1="176.97" x2="170.20" y2="176.97" stroke="#8a8a8a" stroke-width="0.55"/>
<line x1="168.90" y1="179.72" x2="170.20" y2="179.72" stroke="#8a8a8a" stroke-width="0.55"/>
<line x1="168.90" y1="182.46" x2="170.20" y2="182.46" stroke="#8a8a8a" stroke-width="0.55"/>
<line x1="168.90" y1="185.21" x2="170.20" y2="185.21" stroke="#8a8a8a" stroke-width="0.55"/>
<line x1="168.90" y1="187.95" x2="170.20" y2="187.95" stroke="#8a8a8a" stroke-width="0.55"/>
<line x1="168.90" y1="190.69" x2="170.20" y2="190.69" stroke="#8a8a8a" stroke-width="0.55"/>
<line x1="168.90" y1="193.44" x2="170.20" y2="193.44" stroke="#8a8a8a" stroke-width="0.55"/>
<line x1="168.90" y1="196.18" x2="170.20" y2="196.18" stroke="#8a8a8a" stroke-width="0.55"/>
<line x1="168.90" y1="198.93" x2="170.20" y2="198.93" stroke="#8a8a8a" stroke-width="0.55"/>
<line x1="168.90" y1="201.67" x2="170.20" y2="201.67" stroke="#8a8a8a" stroke-width="0.55"/>
<line x1="168.90" y1="204.41" x2="170.20" y2="204.41" stroke="#8a8a8a" stroke-width="0.55"/>
<line x1="168.90" y1="207.16" x2="170.20" y2="207.16" stroke="#8a8a8a" stroke-width="0.55"/>
<line x1="168.90" y1="209.90" x2="170.20" y2="209.90" stroke="#8a8a8a" stroke-width="0.55"/>
<line x1="226.90" y1="164.70" x2="276.90" y2="164.70" stroke="#7c7c7c" stroke-width="1.1"/>
<line x1="226.90" y1="164.20" x2="226.90" y2="211.50" stroke="#3c3c3c" stroke-width="0.8"/>
<line x1="226.90" y1="211.50" x2="276.90" y2="211.50" stroke="#3c3c3c" stroke-width="0.8"/>
<line x1="276.90" y1="164.70" x2="276.90" y2="211.50" stroke="#7c7c7c" stroke-width="1"/>
<line x1="225.60" y1="166.20" x2="226.90" y2="166.20" stroke="#8a8a8a" stroke-width="0.55"/>
<line x1="225.60" y1="168.94" x2="226.90" y2="168.94" stroke="#8a8a8a" stroke-width="0.55"/>
<line x1="225.60" y1="171.67" x2="226.90" y2="171.67" stroke="#8a8a8a" stroke-width="0.55"/>
<line x1="225.60" y1="174.41" x2="226.90" y2="174.41" stroke="#8a8a8a" stroke-width="0.55"/>
<line x1="225.60" y1="177.15" x2="226.90" y2="177.15" stroke="#8a8a8a" stroke-width="0.55"/>
<line x1="225.60" y1="179.89" x2="226.90" y2="179.89" stroke="#8a8a8a" stroke-width="0.55"/>
<line x1="225.60" y1="182.62" x2="226.90" y2="182.62" stroke="#8a8a8a" stroke-width="0.55"/>
<line x1="225.60" y1="185.36" x2="226.90" y2="185.36" stroke="#8a8a8a" stroke-width="0.55"/>
<line x1="225.60" y1="188.10" x2="226.90" y2="188.10" stroke="#8a8a8a" stroke-width="0.55"/>
<line x1="225.60" y1="190.84" x2="226.90" y2="190.84" stroke="#8a8a8a" stroke-width="0.55"/>
<line x1="225.60" y1="193.57" x2="226.90" y2="193.57" stroke="#8a8a8a" stroke-width="0.55"/>
<line x1="225.60" y1="196.31" x2="226.90" y2="196.31" stroke="#8a8a8a" stroke-width="0.55"/>
<line x1="225.60" y1="199.05" x2="226.90" y2="199.05" stroke="#8a8a8a" stroke-width="0.55"/>
<line x1="225.60" y1="201.79" x2="226.90" y2="201.79" stroke="#8a8a8a" stroke-width="0.55"/>
<line x1="225.60" y1="204.53" x2="226.90" y2="204.53" stroke="#8a8a8a" stroke-width="0.55"/>
<line x1="225.60" y1="207.26" x2="226.90" y2="207.26" stroke="#8a8a8a" stroke-width="0.55"/>
<line x1="225.60" y1="210.00" x2="226.90" y2="210.00" stroke="#8a8a8a" stroke-width="0.55"/>
<line x1="293.30" y1="164.60" x2="342.50" y2="164.60" stroke="#7c7c7c" stroke-width="1.1"/>
<line x1="293.30" y1="164.10" x2="293.30" y2="211.40" stroke="#3c3c3c" stroke-width="0.8"/>
<line x1="293.30" y1="211.40" x2="342.50" y2="211.40" stroke="#3c3c3c" stroke-width="0.8"/>
<line x1="342.50" y1="164.60" x2="342.50" y2="211.40" stroke="#7c7c7c" stroke-width="1"/>
<line x1="292.00" y1="166.10" x2="293.30" y2="166.10" stroke="#8a8a8a" stroke-width="0.55"/>
<line x1="292.00" y1="168.84" x2="293.30" y2="168.84" stroke="#8a8a8a" stroke-width="0.55"/>
<line x1="292.00" y1="171.57" x2="293.30" y2="171.57" stroke="#8a8a8a" stroke-width="0.55"/>
<line x1="292.00" y1="174.31" x2="293.30" y2="174.31" stroke="#8a8a8a" stroke-width="0.55"/>
<line x1="292.00" y1="177.05" x2="293.30" y2="177.05" stroke="#8a8a8a" stroke-width="0.55"/>
<line x1="292.00" y1="179.79" x2="293.30" y2="179.79" stroke="#8a8a8a" stroke-width="0.55"/>
<line x1="292.00" y1="182.53" x2="293.30" y2="182.53" stroke="#8a8a8a" stroke-width="0.55"/>
<line x1="292.00" y1="185.26" x2="293.30" y2="185.26" stroke="#8a8a8a" stroke-width="0.55"/>
<line x1="292.00" y1="188.00" x2="293.30" y2="188.00" stroke="#8a8a8a" stroke-width="0.55"/>
<line x1="292.00" y1="190.74" x2="293.30" y2="190.74" stroke="#8a8a8a" stroke-width="0.55"/>
<line x1="292.00" y1="193.47" x2="293.30" y2="193.47" stroke="#8a8a8a" stroke-width="0.55"/>
<line x1="292.00" y1="196.21" x2="293.30" y2="196.21" stroke="#8a8a8a" stroke-width="0.55"/>
<line x1="292.00" y1="198.95" x2="293.30" y2="198.95" stroke="#8a8a8a" stroke-width="0.55"/>
<line x1="292.00" y1="201.69" x2="293.30" y2="201.69" stroke="#8a8a8a" stroke-width="0.55"/>
<line x1="292.00" y1="204.43" x2="293.30" y2="204.43" stroke="#8a8a8a" stroke-width="0.55"/>
<line x1="292.00" y1="207.16" x2="293.30" y2="207.16" stroke="#8a8a8a" stroke-width="0.55"/>
<line x1="292.00" y1="209.90" x2="293.30" y2="209.90" stroke="#8a8a8a" stroke-width="0.55"/>
<line x1="349.50" y1="164.70" x2="399.10" y2="164.70" stroke="#7c7c7c" stroke-width="1.1"/>
<line x1="349.50" y1="164.20" x2="349.50" y2="211.50" stroke="#3c3c3c" stroke-width="0.8"/>
<line x1="349.50" y1="211.50" x2="399.10" y2="211.50" stroke="#3c3c3c" stroke-width="0.8"/>
<line x1="399.10" y1="164.70" x2="399.10" y2="211.50" stroke="#7c7c7c" stroke-width="1"/>
<line x1="348.20" y1="166.20" x2="349.50" y2="166.20" stroke="#8a8a8a" stroke-width="0.55"/>
<line x1="348.20" y1="168.94" x2="349.50" y2="168.94" stroke="#8a8a8a" stroke-width="0.55"/>
<line x1="348.20" y1="171.67" x2="349.50" y2="171.67" stroke="#8a8a8a" stroke-width="0.55"/>
<line x1="348.20" y1="174.41" x2="349.50" y2="174.41" stroke="#8a8a8a" stroke-width="0.55"/>
<line x1="348.20" y1="177.15" x2="349.50" y2="177.15" stroke="#8a8a8a" stroke-width="0.55"/>
<line x1="348.20" y1="179.89" x2="349.50" y2="179.89" stroke="#8a8a8a" stroke-width="0.55"/>
<line x1="348.20" y1="182.62" x2="349.50" y2="182.62" stroke="#8a8a8a" stroke-width="0.55"/>
<line x1="348.20" y1="185.36" x2="349.50" y2="185.36" stroke="#8a8a8a" stroke-width="0.55"/>
<line x1="348.20" y1="188.10" x2="349.50" y2="188.10" stroke="#8a8a8a" stroke-width="0.55"/>
<line x1="348.20" y1="190.84" x2="349.50" y2="190.84" stroke="#8a8a8a" stroke-width="0.55"/>
<line x1="348.20" y1="193.57" x2="349.50" y2="193.57" stroke="#8a8a8a" stroke-width="0.55"/>
<line x1="348.20" y1="196.31" x2="349.50" y2="196.31" stroke="#8a8a8a" stroke-width="0.55"/>
<line x1="348.20" y1="199.05" x2="349.50" y2="199.05" stroke="#8a8a8a" stroke-width="0.55"/>
<line x1="348.20" y1="201.79" x2="349.50" y2="201.79" stroke="#8a8a8a" stroke-width="0.55"/>
<line x1="348.20" y1="204.53" x2="349.50" y2="204.53" stroke="#8a8a8a" stroke-width="0.55"/>
<line x1="348.20" y1="207.26" x2="349.50" y2="207.26" stroke="#8a8a8a" stroke-width="0.55"/>
<line x1="348.20" y1="210.00" x2="349.50" y2="210.00" stroke="#8a8a8a" stroke-width="0.55"/>
<path d="M170.20 211.30 L171.00 210.91 L171.70 211.01 L172.40 210.71 L173.10 211.06 L173.80 210.78 L174.50 210.88 L175.20 211.07 L175.90 210.80 L176.60 211.08 L177.30 210.84 L178.00 211.06 L178.70 211.05 L179.40 210.85 L180.10 210.60 L180.80 211.03 L181.50 210.97 L182.20 210.72 L182.90 210.53 L183.60 210.75 L184.30 210.86 L185.00 210.51 L185.70 211.07 L186.40 210.58 L187.10 210.93 L187.80 211.01 L188.50 211.03 L189.20 210.91 L189.90 210.61 L190.60 210.99 L191.30 210.75 L192.00 210.72 L192.70 210.88 L193.40 210.77 L194.10 211.06 L194.80 211.06 L195.50 210.98 L196.20 210.69 L196.90 210.84 L197.60 210.91 L198.30 210.75 L199.00 210.83 L199.70 210.92 L200.40 210.62 L201.10 210.68 L201.80 210.95 L202.50 210.76 L206.10 210.90 L206.52 210.32 L206.94 209.75 L207.36 209.18 L207.78 208.60 L208.14 202.38 L208.50 196.16 L209.16 179.07 L209.70 168.40 L210.15 179.07 L210.70 196.16 L211.30 208.60 L211.65 209.18 L212.00 209.75 L212.35 210.32 L212.70 210.90 L218.70 211.10 L218.70 211.30" fill="#8e8e8e" stroke="#333" stroke-width="0.6" stroke-linejoin="round"/>
<line x1="177.20" y1="198.10" x2="204.60" y2="198.10" stroke="#8a8a8a" stroke-width="1.0"/>
<line x1="177.20" y1="197.00" x2="177.20" y2="199.20" stroke="#444" stroke-width="0.9"/>
<line x1="204.60" y1="197.00" x2="204.60" y2="199.20" stroke="#444" stroke-width="0.9"/>
<text x="193.30" y="197.40" font-size="4.4" text-anchor="middle" fill="#223" textLength="9.6" lengthAdjust="spacingAndGlyphs">1.44</text>
<path d="M227.40 211.30 L228.00 210.78 L228.70 210.57 L229.40 210.66 L230.10 210.93 L230.80 210.51 L231.50 211.03 L232.20 210.85 L232.90 210.65 L233.60 211.01 L234.30 210.81 L235.00 211.08 L235.70 210.70 L236.40 210.64 L237.10 210.76 L237.80 210.57 L238.50 210.91 L239.20 210.68 L239.90 210.74 L240.60 210.75 L241.30 210.83 L242.00 210.60 L242.70 210.53 L243.40 210.82 L244.10 210.70 L244.80 211.06 L245.50 210.68 L246.20 210.71 L246.90 210.50 L247.60 210.61 L248.30 210.93 L249.00 210.87 L249.70 210.70 L250.40 211.09 L251.10 210.82 L251.80 211.00 L252.50 211.03 L253.20 211.06 L253.90 210.64 L254.60 211.02 L255.30 210.95 L256.00 210.87 L256.70 210.58 L257.40 211.05 L258.10 210.83 L258.80 210.77 L259.50 210.57 L260.20 210.61 L260.90 210.58 L262.50 210.90 L262.86 210.32 L263.22 209.75 L263.58 209.18 L263.94 208.60 L264.42 204.55 L264.90 200.50 L265.34 194.44 L265.78 188.38 L266.14 184.59 L266.50 180.80 L267.13 188.38 L267.51 194.44 L267.90 200.50 L268.32 204.55 L268.74 208.60 L269.13 209.37 L269.51 210.13 L269.90 210.90 L276.40 211.10 L276.40 211.30" fill="#8e8e8e" stroke="#333" stroke-width="0.6" stroke-linejoin="round"/>
<line x1="234.00" y1="198.20" x2="261.70" y2="198.20" stroke="#8a8a8a" stroke-width="1.0"/>
<line x1="234.00" y1="197.10" x2="234.00" y2="199.30" stroke="#444" stroke-width="0.9"/>
<line x1="261.70" y1="197.10" x2="261.70" y2="199.30" stroke="#444" stroke-width="0.9"/>
<text x="250.10" y="197.50" font-size="4.4" text-anchor="middle" fill="#223" textLength="9.6" lengthAdjust="spacingAndGlyphs">6.97</text>
<path d="M293.20 211.50 L294.00 211.13 L294.70 211.05 L295.40 211.08 L296.10 210.77 L296.80 210.73 L297.50 211.21 L298.20 211.19 L298.90 211.16 L299.60 211.16 L300.30 211.01 L301.00 210.95 L301.70 211.14 L302.40 211.30 L303.10 211.05 L303.80 211.08 L304.50 210.96 L305.20 210.73 L305.90 210.89 L306.60 210.99 L307.30 210.93 L308.00 210.89 L308.70 211.27 L309.40 210.76 L310.10 210.83 L310.80 210.78 L311.50 210.82 L312.20 211.06 L312.90 211.06 L313.60 211.24 L314.30 210.92 L315.00 211.26 L315.70 211.26 L316.40 211.17 L317.10 211.20 L317.80 211.10 L318.50 211.27 L319.20 211.30 L319.90 211.21 L320.60 211.24 L321.30 211.08 L322.00 211.28 L322.70 210.78 L323.40 210.93 L324.10 211.21 L324.80 211.15 L325.50 211.09 L326.20 211.08 L326.90 211.23 L328.90 211.10 L329.28 210.64 L329.65 210.18 L330.03 209.72 L330.40 209.26 L330.78 208.80 L331.14 203.49 L331.50 198.18 L332.16 183.18 L332.70 173.80 L333.19 183.18 L333.80 198.18 L334.46 208.80 L334.82 209.38 L335.18 209.95 L335.54 210.53 L335.90 211.10 L341.90 211.30 L341.90 211.50" fill="#8e8e8e" stroke="#333" stroke-width="0.6" stroke-linejoin="round"/>
<line x1="300.30" y1="197.90" x2="327.40" y2="197.90" stroke="#8a8a8a" stroke-width="1.0"/>
<line x1="300.30" y1="196.80" x2="300.30" y2="199.00" stroke="#444" stroke-width="0.9"/>
<line x1="327.40" y1="196.80" x2="327.40" y2="199.00" stroke="#444" stroke-width="0.9"/>
<text x="315.70" y="197.20" font-size="4.4" text-anchor="middle" fill="#223" textLength="9.6" lengthAdjust="spacingAndGlyphs">3.32</text>
<path d="M349.90 211.40 L356.00 211.20 L360.00 211.00 L363.00 209.50 L366.30 206.10 L369.00 208.00 L372.00 210.10 L374.70 209.00 L377.90 211.00 L379.90 207.90 L381.40 209.50 L384.00 205.00 L386.00 199.00 L388.30 195.30 L390.00 198.00 L392.00 201.30 L393.50 205.00 L395.00 211.00 L398.60 211.20 L398.60 211.40" fill="#8e8e8e" stroke="#333" stroke-width="0.6" stroke-linejoin="round"/>
<line x1="356.50" y1="198.20" x2="383.60" y2="198.20" stroke="#8a8a8a" stroke-width="1.0"/>
<line x1="356.50" y1="197.10" x2="356.50" y2="199.30" stroke="#444" stroke-width="0.9"/>
<line x1="383.60" y1="197.10" x2="383.60" y2="199.30" stroke="#444" stroke-width="0.9"/>
<text x="372.90" y="197.50" font-size="4.4" text-anchor="middle" fill="#223" textLength="9.6" lengthAdjust="spacingAndGlyphs">31.6</text>
<line x1="169.50" y1="226.20" x2="218.10" y2="226.20" stroke="#a0a0a0" stroke-width="1.6"/>
<line x1="169.50" y1="225.70" x2="169.50" y2="272.10" stroke="#333" stroke-width="0.85"/>
<line x1="169.50" y1="272.10" x2="218.10" y2="272.10" stroke="#333" stroke-width="0.85"/>
<line x1="218.10" y1="226.20" x2="218.10" y2="272.10" stroke="#a0a0a0" stroke-width="1"/>
<line x1="168.10" y1="228.00" x2="169.40" y2="228.00" stroke="#8a8a8a" stroke-width="0.55"/>
<line x1="168.10" y1="231.07" x2="169.40" y2="231.07" stroke="#8a8a8a" stroke-width="0.55"/>
<line x1="168.10" y1="234.14" x2="169.40" y2="234.14" stroke="#8a8a8a" stroke-width="0.55"/>
<line x1="168.10" y1="237.21" x2="169.40" y2="237.21" stroke="#8a8a8a" stroke-width="0.55"/>
<line x1="168.10" y1="240.29" x2="169.40" y2="240.29" stroke="#8a8a8a" stroke-width="0.55"/>
<line x1="168.10" y1="243.36" x2="169.40" y2="243.36" stroke="#8a8a8a" stroke-width="0.55"/>
<line x1="168.10" y1="246.43" x2="169.40" y2="246.43" stroke="#8a8a8a" stroke-width="0.55"/>
<line x1="168.10" y1="249.50" x2="169.40" y2="249.50" stroke="#8a8a8a" stroke-width="0.55"/>
<line x1="168.10" y1="252.57" x2="169.40" y2="252.57" stroke="#8a8a8a" stroke-width="0.55"/>
<line x1="168.10" y1="255.64" x2="169.40" y2="255.64" stroke="#8a8a8a" stroke-width="0.55"/>
<line x1="168.10" y1="258.71" x2="169.40" y2="258.71" stroke="#8a8a8a" stroke-width="0.55"/>
<line x1="168.10" y1="261.79" x2="169.40" y2="261.79" stroke="#8a8a8a" stroke-width="0.55"/>
<line x1="168.10" y1="264.86" x2="169.40" y2="264.86" stroke="#8a8a8a" stroke-width="0.55"/>
<line x1="168.10" y1="267.93" x2="169.40" y2="267.93" stroke="#8a8a8a" stroke-width="0.55"/>
<line x1="168.10" y1="271.00" x2="169.40" y2="271.00" stroke="#8a8a8a" stroke-width="0.55"/>
<line x1="227.40" y1="225.20" x2="276.60" y2="225.20" stroke="#a4a4a4" stroke-width="1.6"/>
<line x1="227.40" y1="224.70" x2="227.40" y2="271.70" stroke="#333" stroke-width="0.85"/>
<line x1="227.40" y1="271.70" x2="276.60" y2="271.70" stroke="#333" stroke-width="0.85"/>
<line x1="276.60" y1="225.20" x2="276.60" y2="271.70" stroke="#a4a4a4" stroke-width="1"/>
<line x1="226.10" y1="228.00" x2="227.40" y2="228.00" stroke="#8a8a8a" stroke-width="0.55"/>
<line x1="226.10" y1="231.07" x2="227.40" y2="231.07" stroke="#8a8a8a" stroke-width="0.55"/>
<line x1="226.10" y1="234.14" x2="227.40" y2="234.14" stroke="#8a8a8a" stroke-width="0.55"/>
<line x1="226.10" y1="237.21" x2="227.40" y2="237.21" stroke="#8a8a8a" stroke-width="0.55"/>
<line x1="226.10" y1="240.29" x2="227.40" y2="240.29" stroke="#8a8a8a" stroke-width="0.55"/>
<line x1="226.10" y1="243.36" x2="227.40" y2="243.36" stroke="#8a8a8a" stroke-width="0.55"/>
<line x1="226.10" y1="246.43" x2="227.40" y2="246.43" stroke="#8a8a8a" stroke-width="0.55"/>
<line x1="226.10" y1="249.50" x2="227.40" y2="249.50" stroke="#8a8a8a" stroke-width="0.55"/>
<line x1="226.10" y1="252.57" x2="227.40" y2="252.57" stroke="#8a8a8a" stroke-width="0.55"/>
<line x1="226.10" y1="255.64" x2="227.40" y2="255.64" stroke="#8a8a8a" stroke-width="0.55"/>
<line x1="226.10" y1="258.71" x2="227.40" y2="258.71" stroke="#8a8a8a" stroke-width="0.55"/>
<line x1="226.10" y1="261.79" x2="227.40" y2="261.79" stroke="#8a8a8a" stroke-width="0.55"/>
<line x1="226.10" y1="264.86" x2="227.40" y2="264.86" stroke="#8a8a8a" stroke-width="0.55"/>
<line x1="226.10" y1="267.93" x2="227.40" y2="267.93" stroke="#8a8a8a" stroke-width="0.55"/>
<line x1="226.10" y1="271.00" x2="227.40" y2="271.00" stroke="#8a8a8a" stroke-width="0.55"/>
<line x1="294.00" y1="226.10" x2="341.10" y2="226.10" stroke="#a8a8a8" stroke-width="1.7"/>
<line x1="294.00" y1="225.60" x2="294.00" y2="271.40" stroke="#333" stroke-width="0.85"/>
<line x1="294.00" y1="271.40" x2="341.10" y2="271.40" stroke="#333" stroke-width="0.85"/>
<line x1="292.60" y1="228.00" x2="293.90" y2="228.00" stroke="#8a8a8a" stroke-width="0.55"/>
<line x1="292.60" y1="230.39" x2="293.90" y2="230.39" stroke="#8a8a8a" stroke-width="0.55"/>
<line x1="292.60" y1="232.78" x2="293.90" y2="232.78" stroke="#8a8a8a" stroke-width="0.55"/>
<line x1="292.60" y1="235.17" x2="293.90" y2="235.17" stroke="#8a8a8a" stroke-width="0.55"/>
<line x1="292.60" y1="237.56" x2="293.90" y2="237.56" stroke="#8a8a8a" stroke-width="0.55"/>
<line x1="292.60" y1="239.94" x2="293.90" y2="239.94" stroke="#8a8a8a" stroke-width="0.55"/>
<line x1="292.60" y1="242.33" x2="293.90" y2="242.33" stroke="#8a8a8a" stroke-width="0.55"/>
<line x1="292.60" y1="244.72" x2="293.90" y2="244.72" stroke="#8a8a8a" stroke-width="0.55"/>
<line x1="292.60" y1="247.11" x2="293.90" y2="247.11" stroke="#8a8a8a" stroke-width="0.55"/>
<line x1="292.60" y1="249.50" x2="293.90" y2="249.50" stroke="#8a8a8a" stroke-width="0.55"/>
<line x1="292.60" y1="251.89" x2="293.90" y2="251.89" stroke="#8a8a8a" stroke-width="0.55"/>
<line x1="292.60" y1="254.28" x2="293.90" y2="254.28" stroke="#8a8a8a" stroke-width="0.55"/>
<line x1="292.60" y1="256.67" x2="293.90" y2="256.67" stroke="#8a8a8a" stroke-width="0.55"/>
<line x1="292.60" y1="259.06" x2="293.90" y2="259.06" stroke="#8a8a8a" stroke-width="0.55"/>
<line x1="292.60" y1="261.44" x2="293.90" y2="261.44" stroke="#8a8a8a" stroke-width="0.55"/>
<line x1="292.60" y1="263.83" x2="293.90" y2="263.83" stroke="#8a8a8a" stroke-width="0.55"/>
<line x1="292.60" y1="266.22" x2="293.90" y2="266.22" stroke="#8a8a8a" stroke-width="0.55"/>
<line x1="292.60" y1="268.61" x2="293.90" y2="268.61" stroke="#8a8a8a" stroke-width="0.55"/>
<line x1="292.60" y1="271.00" x2="293.90" y2="271.00" stroke="#8a8a8a" stroke-width="0.55"/>
<line x1="356.00" y1="225.30" x2="402.80" y2="225.30" stroke="#a4a4a4" stroke-width="1.6"/>
<line x1="356.00" y1="224.80" x2="356.00" y2="268.90" stroke="#333" stroke-width="0.85"/>
<line x1="356.00" y1="268.90" x2="402.80" y2="268.90" stroke="#333" stroke-width="0.85"/>
<line x1="402.80" y1="225.30" x2="402.80" y2="268.90" stroke="#a4a4a4" stroke-width="1"/>
<line x1="354.70" y1="227.00" x2="356.00" y2="227.00" stroke="#8a8a8a" stroke-width="0.55"/>
<line x1="354.70" y1="229.28" x2="356.00" y2="229.28" stroke="#8a8a8a" stroke-width="0.55"/>
<line x1="354.70" y1="231.56" x2="356.00" y2="231.56" stroke="#8a8a8a" stroke-width="0.55"/>
<line x1="354.70" y1="233.83" x2="356.00" y2="233.83" stroke="#8a8a8a" stroke-width="0.55"/>
<line x1="354.70" y1="236.11" x2="356.00" y2="236.11" stroke="#8a8a8a" stroke-width="0.55"/>
<line x1="354.70" y1="238.39" x2="356.00" y2="238.39" stroke="#8a8a8a" stroke-width="0.55"/>
<line x1="354.70" y1="240.67" x2="356.00" y2="240.67" stroke="#8a8a8a" stroke-width="0.55"/>
<line x1="354.70" y1="242.94" x2="356.00" y2="242.94" stroke="#8a8a8a" stroke-width="0.55"/>
<line x1="354.70" y1="245.22" x2="356.00" y2="245.22" stroke="#8a8a8a" stroke-width="0.55"/>
<line x1="354.70" y1="247.50" x2="356.00" y2="247.50" stroke="#8a8a8a" stroke-width="0.55"/>
<line x1="354.70" y1="249.78" x2="356.00" y2="249.78" stroke="#8a8a8a" stroke-width="0.55"/>
<line x1="354.70" y1="252.06" x2="356.00" y2="252.06" stroke="#8a8a8a" stroke-width="0.55"/>
<line x1="354.70" y1="254.33" x2="356.00" y2="254.33" stroke="#8a8a8a" stroke-width="0.55"/>
<line x1="354.70" y1="256.61" x2="356.00" y2="256.61" stroke="#8a8a8a" stroke-width="0.55"/>
<line x1="354.70" y1="258.89" x2="356.00" y2="258.89" stroke="#8a8a8a" stroke-width="0.55"/>
<line x1="354.70" y1="261.17" x2="356.00" y2="261.17" stroke="#8a8a8a" stroke-width="0.55"/>
<line x1="354.70" y1="263.44" x2="356.00" y2="263.44" stroke="#8a8a8a" stroke-width="0.55"/>
<line x1="354.70" y1="265.72" x2="356.00" y2="265.72" stroke="#8a8a8a" stroke-width="0.55"/>
<line x1="354.70" y1="268.00" x2="356.00" y2="268.00" stroke="#8a8a8a" stroke-width="0.55"/>
<path d="M170.00 272.00 L170.36 271.96 L170.71 271.68 L171.07 271.85 L171.43 272.00 L171.79 271.59 L172.14 271.93 L172.50 269.82 L172.86 272.00 L173.21 272.00 L173.57 271.76 L173.93 272.00 L174.29 272.00 L174.64 271.62 L175.00 272.00 L175.50 271.01 L176.00 271.17 L176.50 271.21 L176.90 269.05 L177.30 269.63 L178.00 271.12 L178.50 270.71 L179.00 270.32 L179.50 270.30 L180.00 270.79 L180.50 270.74 L181.00 270.54 L181.50 270.76 L182.00 270.71 L182.50 270.79 L183.00 270.18 L183.50 270.17 L184.00 270.68 L184.50 270.83 L185.00 270.13 L185.40 270.29 L185.80 269.81 L186.20 270.28 L186.63 269.25 L187.07 269.34 L187.50 268.40 L188.00 263.61 L188.50 267.10 L189.00 266.80 L189.50 266.26 L189.90 265.05 L190.30 264.36 L191.00 261.06 L191.40 259.19 L191.80 257.79 L192.23 256.07 L192.65 254.98 L193.30 257.29 L194.00 261.02 L194.40 262.00 L194.80 260.25 L195.20 264.77 L195.63 265.99 L196.07 266.54 L196.50 267.54 L197.00 267.87 L197.50 268.62 L197.90 269.19 L198.30 269.24 L198.70 269.69 L199.07 269.61 L199.43 269.68 L199.80 269.77 L200.20 269.58 L200.60 269.54 L201.00 269.51 L201.50 268.74 L202.00 268.44 L202.50 266.59 L203.00 265.20 L203.50 263.00 L204.00 255.20 L204.50 242.76 L205.00 233.11 L205.50 228.87 L206.00 229.80 L206.50 236.93 L207.00 247.34 L207.60 257.76 L207.95 262.01 L208.30 265.79 L208.70 266.34 L209.10 269.43 L209.55 271.29 L210.00 271.30 L210.35 271.80 L210.71 271.32 L211.06 271.28 L211.42 271.44 L211.78 271.55 L212.13 271.82 L212.48 271.35 L212.84 271.65 L213.19 271.31 L213.55 271.73 L213.91 271.30 L214.26 271.69 L214.62 271.31 L214.97 271.30 L215.32 271.57 L215.68 271.64 L216.03 271.44 L216.39 271.62 L216.75 271.33 L217.10 271.29 L217.10 272.00" fill="#9a9a9a" stroke="#111" stroke-width="1.1" stroke-linejoin="round"/>
<line x1="171.40" y1="252.60" x2="199.50" y2="252.60" stroke="#8a8a8a" stroke-width="1.0"/>
<line x1="171.40" y1="251.50" x2="171.40" y2="253.70" stroke="#444" stroke-width="0.9"/>
<line x1="199.50" y1="251.50" x2="199.50" y2="253.70" stroke="#444" stroke-width="0.9"/>
<text x="185.30" y="248.80" font-size="4.4" text-anchor="middle" fill="#223" textLength="9.4" lengthAdjust="spacingAndGlyphs">45.6</text>
<path d="M233.00 271.60 L234.00 270.00 L235.50 268.90 L237.00 269.00 L238.50 270.50 L240.00 271.60" fill="#a8a8a8" stroke="none" stroke-width="0" stroke-linejoin="round"/>
<path d="M246.50 271.60 L248.00 267.00 L250.00 265.00 L252.00 265.50 L254.00 267.50 L256.00 271.60" fill="#a8a8a8" stroke="none" stroke-width="0" stroke-linejoin="round"/>
<path d="M233.50 271.60 L233.50 270.05 L233.95 269.32 L234.40 269.97 L234.85 270.47 L235.30 269.78 L235.75 270.61 L236.20 270.62 L236.65 266.73 L237.10 269.25 L237.55 269.80 L238.00 270.74 L238.45 270.36 L238.90 268.58 L239.35 269.56 L239.80 269.40 L240.25 269.44 L240.70 269.53 L241.15 268.40 L241.60 268.73 L242.05 269.82 L242.50 267.58 L242.95 269.65 L243.40 269.68 L243.85 268.09 L244.30 268.59 L244.75 268.44 L245.20 270.33 L245.65 268.86 L246.10 270.30 L246.55 268.47 L247.00 270.23 L247.45 266.71 L247.90 268.81 L248.35 267.76 L248.80 266.65 L249.25 266.99 L249.70 267.86 L250.15 268.45 L250.60 266.37 L251.05 266.05 L251.50 267.96 L251.95 267.00 L252.40 265.64 L252.85 268.49 L253.30 268.22 L253.75 269.21 L254.20 267.23 L254.65 267.15 L255.10 267.73 L255.55 267.61 L256.00 266.12 L256.45 270.02 L256.90 268.51 L257.35 269.94 L257.80 268.24 L258.25 268.21 L258.70 269.00 L259.15 267.25 L259.60 269.83 L260.05 269.79 L260.50 269.02 L260.95 269.98 L261.00 271.60" fill="none" stroke="#111" stroke-width="0.9" stroke-linejoin="round"/>
<line x1="240.70" y1="270.00" x2="240.70" y2="260.80" stroke="#111" stroke-width="0.75"/>
<line x1="242.20" y1="270.00" x2="242.20" y2="260.80" stroke="#111" stroke-width="0.75"/>
<line x1="251.40" y1="270.00" x2="251.40" y2="260.80" stroke="#111" stroke-width="0.75"/>
<line x1="254.40" y1="270.00" x2="254.40" y2="260.80" stroke="#111" stroke-width="0.75"/>
<line x1="249.00" y1="270.00" x2="249.00" y2="263.30" stroke="#111" stroke-width="0.75"/>
<path d="M260.50 271.41 L260.80 270.14 L261.10 268.16 L261.40 265.29 L261.70 264.24 L262.00 263.05 L262.30 261.17 L262.60 259.01 L262.90 257.53 L263.20 256.13 L263.50 254.01 L263.83 251.82 L264.17 249.00 L264.50 246.14 L264.90 244.11 L265.30 242.16 L265.70 241.04 L266.00 242.20 L266.30 244.61 L266.60 246.17 L267.00 247.81 L267.40 250.09 L267.80 252.15 L268.20 249.26 L268.60 245.45 L269.00 242.47 L269.40 237.33 L269.80 235.97 L270.20 232.70 L270.60 230.20 L271.00 227.99 L271.30 230.52 L271.60 235.73 L272.20 250.03 L272.50 256.66 L272.80 263.38 L273.30 271.13 L273.64 270.96 L273.98 268.13 L274.31 271.60 L274.65 271.58 L274.99 271.00 L275.32 271.38 L275.66 271.60 L276.00 271.48 L276.00 271.60" fill="#979797" stroke="#111" stroke-width="1.0" stroke-linejoin="round"/>
<line x1="229.40" y1="252.30" x2="258.30" y2="252.30" stroke="#8a8a8a" stroke-width="1.0"/>
<line x1="229.40" y1="251.20" x2="229.40" y2="253.40" stroke="#444" stroke-width="0.9"/>
<line x1="258.30" y1="251.20" x2="258.30" y2="253.40" stroke="#444" stroke-width="0.9"/>
<text x="243.10" y="248.40" font-size="4.4" text-anchor="middle" fill="#223" textLength="9.4" lengthAdjust="spacingAndGlyphs">27.7</text>
<path d="M294.50 271.30 L294.81 270.52 L295.12 271.16 L295.44 271.30 L295.75 271.30 L296.06 271.30 L296.38 270.82 L296.69 271.30 L297.00 271.28 L297.31 270.85 L297.62 271.01 L297.94 271.02 L298.25 270.96 L298.56 271.30 L298.88 271.11 L299.19 271.30 L299.50 271.30 L299.80 270.32 L300.10 269.98 L300.42 270.07 L300.73 269.86 L301.05 270.14 L301.37 270.57 L301.68 270.26 L302.00 270.47 L302.33 269.86 L302.67 269.63 L303.00 268.16 L303.33 270.12 L303.67 270.02 L304.00 270.04 L304.30 269.88 L304.60 269.66 L304.90 270.23 L305.20 269.95 L305.50 269.85 L305.80 269.20 L306.10 269.35 L306.40 269.31 L306.70 269.08 L307.00 269.06 L307.30 266.36 L307.60 269.23 L307.90 269.16 L308.20 269.00 L308.50 268.38 L308.82 268.82 L309.15 268.12 L309.48 267.92 L309.80 267.64 L310.20 267.31 L310.60 266.77 L311.00 266.51 L311.33 265.22 L311.67 264.51 L312.00 263.12 L312.33 261.73 L312.67 259.86 L313.00 258.21 L313.33 256.56 L313.67 254.47 L314.00 253.38 L314.32 252.22 L314.65 251.32 L314.98 251.18 L315.30 250.14 L315.90 243.05 L316.20 239.20 L316.50 235.74 L317.00 230.50 L317.30 228.87 L317.70 231.95 L318.10 238.72 L318.60 245.86 L318.95 248.27 L319.30 251.06 L319.75 254.22 L320.20 256.92 L320.60 259.89 L321.00 262.61 L321.33 264.75 L321.67 265.67 L322.00 267.33 L322.40 267.29 L322.80 267.91 L323.30 262.41 L323.80 268.51 L324.13 268.22 L324.47 267.74 L324.80 267.05 L325.20 266.63 L325.60 265.32 L326.05 262.77 L326.50 260.69 L326.95 259.66 L327.40 258.20 L327.77 256.90 L328.13 252.25 L328.50 253.76 L328.95 253.13 L329.40 251.67 L329.90 247.12 L330.30 243.65 L330.60 242.72 L330.90 244.90 L331.40 248.88 L331.75 251.96 L332.10 254.13 L332.45 256.98 L332.80 259.77 L333.15 263.68 L333.50 266.57 L333.85 269.26 L334.20 271.20 L340.80 271.20 L340.80 271.30" fill="#9e9e9e" stroke="#111" stroke-width="1.1" stroke-linejoin="round"/>
<path d="M312.50 268.76 L312.80 268.03 L313.10 265.73 L313.40 264.72 L313.70 263.10 L314.00 262.24 L314.30 260.11 L314.60 258.61 L314.90 256.93 L315.20 255.86 L315.50 254.45 L315.83 251.02 L316.17 248.58 L316.50 246.45 L316.85 241.89 L317.20 238.47 L317.70 245.55 L318.00 249.89 L318.30 254.38 L318.70 257.50 L319.10 259.83 L319.50 263.44 L319.80 263.73 L320.10 265.28 L320.40 266.43 L320.70 267.30 L321.00 269.00" fill="none" stroke="#222" stroke-width="0.7" stroke-linejoin="round"/>
<path d="M326.50 268.85 L326.80 267.22 L327.10 265.91 L327.40 265.12 L327.70 261.44 L328.00 261.87 L328.30 260.29 L328.60 257.95 L328.90 258.11 L329.20 255.69 L329.50 255.42 L329.95 252.25 L330.40 248.84 L330.70 252.46 L331.00 254.76 L331.33 257.15 L331.67 259.17 L332.00 262.42 L332.33 263.84 L332.67 266.64 L333.00 269.00" fill="none" stroke="#222" stroke-width="0.7" stroke-linejoin="round"/>
<line x1="296.30" y1="252.40" x2="324.70" y2="252.40" stroke="#8a8a8a" stroke-width="1.0"/>
<line x1="296.30" y1="251.30" x2="296.30" y2="253.50" stroke="#444" stroke-width="0.9"/>
<line x1="324.70" y1="251.30" x2="324.70" y2="253.50" stroke="#444" stroke-width="0.9"/>
<text x="309.30" y="248.30" font-size="4.4" text-anchor="middle" fill="#223" textLength="9.4" lengthAdjust="spacingAndGlyphs">67.7</text>
<line x1="361.00" y1="268.80" x2="361.00" y2="264.81" stroke="#111" stroke-width="0.7725360967782189"/>
<line x1="362.57" y1="268.80" x2="362.57" y2="263.78" stroke="#111" stroke-width="0.7719695724219793"/>
<line x1="364.29" y1="268.80" x2="364.29" y2="266.71" stroke="#111" stroke-width="0.6896867963134317"/>
<line x1="366.03" y1="268.80" x2="366.03" y2="264.72" stroke="#111" stroke-width="0.8202701475251868"/>
<line x1="366.85" y1="268.80" x2="366.85" y2="265.30" stroke="#111" stroke-width="0.6239718497859491"/>
<line x1="368.15" y1="268.80" x2="368.15" y2="264.96" stroke="#111" stroke-width="0.5539342568766707"/>
<line x1="369.09" y1="268.80" x2="369.09" y2="265.91" stroke="#111" stroke-width="0.8249036115425656"/>
<line x1="370.63" y1="268.80" x2="370.63" y2="266.29" stroke="#111" stroke-width="0.7891440974293613"/>
<line x1="371.48" y1="268.80" x2="371.48" y2="264.82" stroke="#111" stroke-width="0.588009769765081"/>
<line x1="372.18" y1="268.80" x2="372.18" y2="264.01" stroke="#111" stroke-width="0.6128369147485354"/>
<line x1="373.12" y1="268.80" x2="373.12" y2="263.66" stroke="#111" stroke-width="0.8117223296310405"/>
<line x1="374.14" y1="268.80" x2="374.14" y2="263.72" stroke="#111" stroke-width="0.7117670406612432"/>
<line x1="375.59" y1="268.80" x2="375.59" y2="266.14" stroke="#111" stroke-width="0.8322928003263997"/>
<line x1="377.05" y1="268.80" x2="377.05" y2="263.71" stroke="#111" stroke-width="0.8181225032729436"/>
<line x1="378.07" y1="268.80" x2="378.07" y2="265.64" stroke="#111" stroke-width="0.5997868171389237"/>
<line x1="378.93" y1="268.80" x2="378.93" y2="266.59" stroke="#111" stroke-width="0.6404077302308387"/>
<line x1="380.30" y1="268.80" x2="380.30" y2="266.79" stroke="#111" stroke-width="0.7533802748643074"/>
<line x1="381.37" y1="268.80" x2="381.37" y2="265.81" stroke="#111" stroke-width="0.7955554223941212"/>
<line x1="382.60" y1="268.80" x2="382.60" y2="265.79" stroke="#111" stroke-width="0.6943655158710592"/>
<line x1="384.07" y1="268.80" x2="384.07" y2="266.62" stroke="#111" stroke-width="0.8425298689432706"/>
<line x1="384.80" y1="268.80" x2="384.80" y2="264.40" stroke="#111" stroke-width="0.8034642668164389"/>
<line x1="385.52" y1="268.80" x2="385.52" y2="264.28" stroke="#111" stroke-width="0.6598553427525582"/>
<line x1="386.85" y1="268.80" x2="386.85" y2="266.77" stroke="#111" stroke-width="0.5640181356096825"/>
<line x1="367.60" y1="268.60" x2="367.60" y2="253.50" stroke="#444" stroke-width="0.7"/>
<line x1="372.50" y1="268.60" x2="372.50" y2="258.60" stroke="#444" stroke-width="0.7"/>
<line x1="378.60" y1="268.60" x2="378.60" y2="253.50" stroke="#444" stroke-width="0.7"/>
<path d="M387.30 268.80 L387.30 256.40 L390.00 256.40 L390.00 250.00 L393.00 245.00 L395.00 243.40 L397.00 243.40 L397.80 250.00 L398.30 262.00 L399.10 268.80" fill="#b4b4b4" stroke="none" stroke-width="0" stroke-linejoin="round"/>
<path d="M390.20 268.80 L390.50 245.00 L390.80 238.60 L391.30 241.00 L391.90 246.00 L392.50 252.00 L392.70 268.80" fill="#333" stroke="#111" stroke-width="0.4" stroke-linejoin="round"/>
<path d="M394.00 268.80 L394.30 240.00 L394.60 227.20 L394.90 240.00 L395.20 268.80" fill="#333" stroke="#111" stroke-width="0.4" stroke-linejoin="round"/>
<path d="M395.80 268.80 L396.00 247.00 L396.50 246.00 L397.00 258.00 L397.20 268.80" fill="#444" stroke="#222" stroke-width="0.4" stroke-linejoin="round"/>
<line x1="387.60" y1="268.80" x2="387.60" y2="262.00" stroke="#222" stroke-width="0.7"/>
<line x1="388.60" y1="268.80" x2="388.60" y2="258.00" stroke="#333" stroke-width="0.6"/>
<line x1="398.30" y1="268.80" x2="398.30" y2="262.00" stroke="#333" stroke-width="0.6"/>
<line x1="358.20" y1="250.70" x2="385.40" y2="250.70" stroke="#8a8a8a" stroke-width="1.0"/>
<line x1="358.20" y1="249.60" x2="358.20" y2="251.80" stroke="#444" stroke-width="0.9"/>
<line x1="385.40" y1="249.60" x2="385.40" y2="251.80" stroke="#444" stroke-width="0.9"/>
<text x="370.70" y="247.30" font-size="4.4" text-anchor="middle" fill="#223" textLength="9.6" lengthAdjust="spacingAndGlyphs">15.8</text>
<rect x="178.2" y="274.2" width="1.8" height="1.6" fill="#888"/>
<rect x="190.7" y="274.2" width="1.8" height="1.6" fill="#888"/>
<rect x="202.5" y="274.2" width="1.8" height="1.6" fill="#888"/>
<rect x="214.0" y="274.2" width="1.8" height="1.6" fill="#888"/>
<rect x="236.2" y="274.1" width="1.8" height="1.6" fill="#888"/>
<rect x="249.2" y="274.1" width="1.8" height="1.6" fill="#888"/>
<rect x="259.7" y="274.1" width="1.8" height="1.6" fill="#888"/>
<rect x="272.2" y="274.1" width="1.8" height="1.6" fill="#888"/>
<rect x="302.9" y="273.9" width="1.8" height="1.6" fill="#888"/>
<rect x="314.2" y="273.9" width="1.8" height="1.6" fill="#888"/>
<rect x="326.6" y="273.9" width="1.8" height="1.6" fill="#888"/>
<rect x="338.4" y="273.9" width="1.8" height="1.6" fill="#888"/>
<rect x="364.3" y="270.9" width="1.8" height="1.6" fill="#888"/>
<rect x="375.6" y="270.9" width="1.8" height="1.6" fill="#888"/>
<rect x="386.9" y="270.9" width="1.8" height="1.6" fill="#888"/>
<rect x="398.2" y="270.9" width="1.8" height="1.6" fill="#888"/>
<line x1="363.20" y1="275.20" x2="392.00" y2="275.20" stroke="#ccc" stroke-width="0.8"/>
<line x1="171.60" y1="212.40" x2="217.20" y2="212.40" stroke="#d4d4d4" stroke-width="0.8"/>
<rect x="176.6" y="211.7" width="1.8" height="1.3" fill="#aaa"/>
<rect x="189.5" y="211.7" width="1.8" height="1.3" fill="#aaa"/>
<rect x="201.4" y="211.7" width="1.8" height="1.3" fill="#aaa"/>
<rect x="213.3" y="211.7" width="1.8" height="1.3" fill="#aaa"/>
<rect x="176.6" y="211.2" width="2.4" height="1.5" fill="#555"/>
<line x1="228.90" y1="212.40" x2="274.90" y2="212.40" stroke="#d4d4d4" stroke-width="0.8"/>
<rect x="234.0" y="211.7" width="1.8" height="1.3" fill="#aaa"/>
<rect x="247.0" y="211.7" width="1.8" height="1.3" fill="#aaa"/>
<rect x="259.0" y="211.7" width="1.8" height="1.3" fill="#aaa"/>
<rect x="271.0" y="211.7" width="1.8" height="1.3" fill="#aaa"/>
<rect x="233.9" y="211.2" width="2.4" height="1.5" fill="#555"/>
<line x1="294.70" y1="212.40" x2="340.40" y2="212.40" stroke="#d4d4d4" stroke-width="0.8"/>
<rect x="299.8" y="211.7" width="1.8" height="1.3" fill="#aaa"/>
<rect x="312.7" y="211.7" width="1.8" height="1.3" fill="#aaa"/>
<rect x="324.6" y="211.7" width="1.8" height="1.3" fill="#aaa"/>
<rect x="336.5" y="211.7" width="1.8" height="1.3" fill="#aaa"/>
<rect x="299.7" y="211.2" width="2.4" height="1.5" fill="#555"/>
<line x1="351.40" y1="212.40" x2="397.10" y2="212.40" stroke="#d4d4d4" stroke-width="0.8"/>
<rect x="356.5" y="211.7" width="1.8" height="1.3" fill="#aaa"/>
<rect x="369.4" y="211.7" width="1.8" height="1.3" fill="#aaa"/>
<rect x="381.3" y="211.7" width="1.8" height="1.3" fill="#aaa"/>
<rect x="393.2" y="211.7" width="1.8" height="1.3" fill="#aaa"/>
<rect x="356.4" y="211.2" width="2.4" height="1.5" fill="#555"/>
<rect x="223.3" y="227.2" width="1.6" height="1.2" fill="#999"/>
<rect x="223.3" y="242.2" width="1.6" height="1.2" fill="#999"/>
<rect x="223.3" y="256.8" width="1.6" height="1.2" fill="#999"/>
<rect x="223.3" y="270.7" width="1.6" height="1.2" fill="#999"/>
<rect x="290.3" y="228.4" width="1.6" height="1.2" fill="#999"/>
<rect x="290.3" y="239.4" width="1.6" height="1.2" fill="#999"/>
<rect x="290.3" y="250.4" width="1.6" height="1.2" fill="#999"/>
<rect x="290.3" y="260.4" width="1.6" height="1.2" fill="#999"/>
<rect x="290.3" y="269.9" width="1.6" height="1.2" fill="#999"/>
<rect x="352.4" y="225.9" width="1.6" height="1.2" fill="#999"/>
<rect x="352.4" y="236.4" width="1.6" height="1.2" fill="#999"/>
<rect x="352.4" y="247.4" width="1.6" height="1.2" fill="#999"/>
<rect x="352.4" y="257.9" width="1.6" height="1.2" fill="#999"/>
<rect x="352.4" y="267.4" width="1.6" height="1.2" fill="#999"/>
<rect x="284.3" y="245.5" width="1.2" height="5" fill="#c9b89a"/>
<rect x="346.8" y="245.8" width="1.2" height="5" fill="#c9b89a"/>
<line x1="518.70" y1="140.00" x2="518.70" y2="295.00" stroke="#e4e4e4" stroke-width="1"/>
</svg>
</body></html>
